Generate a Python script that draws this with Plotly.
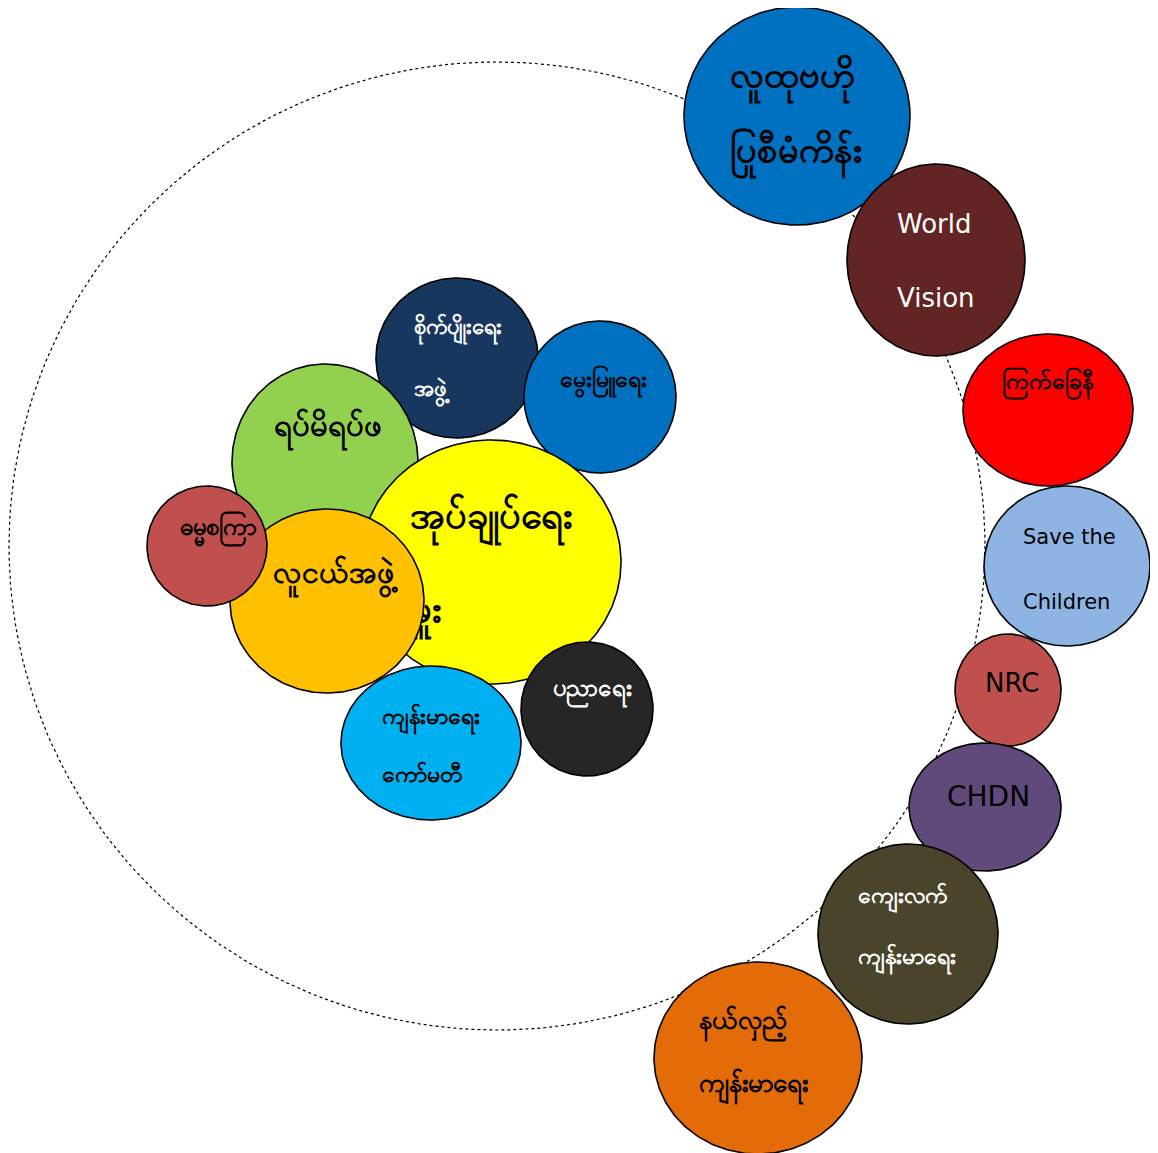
import numpy as np
import plotly.graph_objects as go

W, H = 1158, 1153
PAGE_OFFSET = 8  # browser body margin

# ---- data: circles (drawing order), labels, colours ----
names = ["ring",
         "လူထုဗဟို ပြုစီမံကိန်း", "World Vision", "ကြက်ခြေနီ", "Save the Children",
         "NRC", "CHDN", "ကျေးလက် ကျန်းမာရေး", "နယ်လှည့် ကျန်းမာရေး",
         "စိုက်ပျိုးရေး အဖွဲ့", "မွေးမြူရေး", "ရပ်မိရပ်ဖ", "အုပ်ချုပ်ရေးမှူး",
         "လူငယ်အဖွဲ့", "ဓမ္မစကြာ", "ကျန်းမာရေး ကော်မတီ", "ပညာရေး"]
center_x = [497, 797, 936, 1048, 1067, 1008, 985, 908, 758,
            457, 600, 325, 491, 327, 207, 431, 587]
center_y = [546, 116, 260, 410, 566, 690, 807, 934, 1058,
            358, 397, 462, 562, 601, 546, 743, 709]
radius_x = [488, 113, 89, 85, 83, 53, 76, 90, 104,
            81, 76, 93, 130, 97, 60, 90, 66]
radius_y = [484, 109, 96, 76, 80, 56, 64, 90, 96,
            80, 76, 98, 122, 92, 60, 77, 67]
fill_colors = [None, "#0070C0", "#632523", "#FF0000", "#8EB4E3", "#C0504D",
               "#604A7B", "#4A452A", "#E36C09", "#17375E", "#0070C0",
               "#92D050", "#FFFF00", "#FFC000", "#C0504D", "#00B0F0", "#262626"]

label_lines = [[],
               ["လူထုဗဟို", "ပြုစီမံကိန်း"], ["World", "Vision"], ["ကြက်ခြေနီ"],
               ["Save the", "Children"], ["NRC"], ["CHDN"],
               ["ကျေးလက်", "ကျန်းမာရေး"], ["နယ်လှည့်", "ကျန်းမာရေး"],
               ["စိုက်ပျိုးရေး", "အဖွဲ့"], ["မွေးမြူရေး"], ["ရပ်မိရပ်ဖ"],
               ["အုပ်ချုပ်ရေး", "မှူး"], ["လူငယ်အဖွဲ့"], ["ဓမ္မစကြာ"],
               ["ကျန်းမာရေး", "ကော်မတီ"], ["ပညာရေး"]]
label_x = [0, 730, 897, 1002, 1023, 985, 947, 858, 699,
           414, 560, 274, 410, 273, 180, 382, 553]
label_y = [[], [78, 153], [226, 300], [383], [539, 604], [685], [799],
           [897, 958], [1022, 1085], [328, 390], [381], [428], [518, 612],
           [575], [529], [718, 776], [690]]
label_size = [0, 36, 26, 23, 21, 26, 28, 23, 26, 22, 23, 31, 38, 30, 24, 23, 24]
label_color = [None, "black", "white", "black", "black", "black", "black",
               "white", "black", "white", "black", "black", "black", "black",
               "black", "black", "white"]
label_latin = [False, False, True, False, True, True, True, False, False,
               False, False, False, False, False, False, False, False]

fig = go.Figure()
t = np.linspace(0, 2 * np.pi, 241)
for i in range(len(names)):
    ex = center_x[i] + radius_x[i] * np.cos(t)
    ey = center_y[i] + radius_y[i] * np.sin(t)
    if fill_colors[i] is None:
        fig.add_trace(go.Scatter(x=ex, y=ey, mode="lines",
                                 line=dict(color="black", width=1.2, dash="dot"),
                                 hoverinfo="skip", showlegend=False))
        continue
    fig.add_trace(go.Scatter(x=ex, y=ey, mode="lines", fill="toself",
                             fillcolor=fill_colors[i],
                             line=dict(color="black", width=1.6),
                             name=names[i], hoverinfo="name", showlegend=False))
    if label_lines[i]:
        fig.add_trace(go.Scatter(
            x=[label_x[i]] * len(label_lines[i]), y=label_y[i],
            mode="text", text=label_lines[i], textposition="middle right",
            textfont=dict(size=label_size[i], color=label_color[i],
                          family="DejaVu Sans, Noto Sans, sans-serif",
                          weight="normal" if label_latin[i] else "bold"),
            hoverinfo="skip", showlegend=False))

fig.update_layout(
    width=W, height=H, margin=dict(l=0, r=0, t=0, b=0),
    paper_bgcolor="white", plot_bgcolor="white",
    xaxis=dict(range=[PAGE_OFFSET, W + PAGE_OFFSET], visible=False, fixedrange=True),
    yaxis=dict(range=[H + PAGE_OFFSET, PAGE_OFFSET], visible=False, fixedrange=True),
)
fig.write_html("out.html")
